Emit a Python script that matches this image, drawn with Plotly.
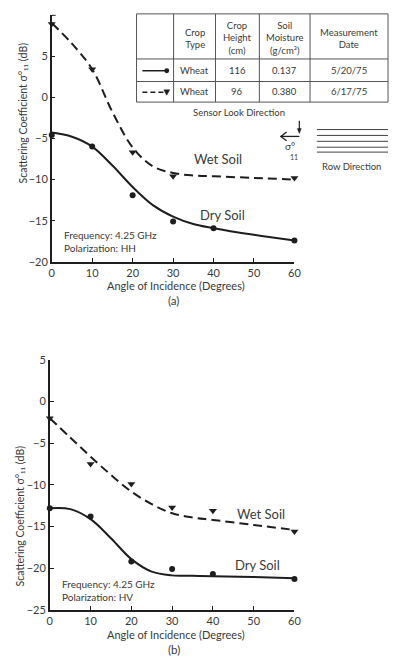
import plotly.graph_objects as go

W, H = 396, 664
FONT = "Lato"
TXT = "#3a3a3a"
INK = "#1e1e1e"

# ---------------- data ----------------
# Panel (a): polarization HH
angles_a_dry = [0, 10, 20, 30, 40, 60]
dry_a_pts = [-4.6, -6.0, -11.9, -15.1, -15.9, -17.4]
angles_a_wet = [0, 10, 20, 30, 60]
wet_a_pts = [8.9, 3.4, -6.7, -9.6, -9.8]

curve_angles = [0, 5, 10, 15, 20, 25, 30, 35, 40, 50, 60]
dry_a_curve = [-4.3, -4.8, -6.0, -8.3, -10.9, -13.1, -14.5, -15.4, -15.9, -16.7, -17.4]
wet_a_curve = [9.0, 6.5, 3.4, -1.8, -6.1, -8.4, -9.2, -9.5, -9.6, -9.8, -10.0]

# Panel (b): polarization HV
angles_b = [0, 10, 20, 30, 40, 60]
dry_b_pts = [-12.8, -13.8, -19.2, -20.1, -20.7, -21.3]
wet_b_pts = [-2.0, -7.5, -9.9, -12.7, -13.1, -15.6]
dry_b_curve = [-12.8, -12.9, -14.1, -16.4, -18.9, -20.4, -20.85, -20.9, -20.95, -21.05, -21.2]
wet_b_curve = [-2.0, -4.3, -6.6, -8.8, -10.8, -12.3, -13.4, -13.9, -14.2, -14.8, -15.4]

x_ticks = [0, 10, 20, 30, 40, 50, 60]
y_ticks_a = [-20, -15, -10, -5, 0, 5]
y_ticks_b = [-25, -20, -15, -10, -5, 0, 5]

table_header = ["", "Crop<br>Type", "Crop<br>Height<br>(cm)", "Soil<br>Moisture<br>(g/cm³)", "Measurement<br>Date"]
table_rows = [["", "Wheat", "116", "0.137", "5/20/75"],
              ["", "Wheat", "96", "0.380", "6/17/75"]]

# ---------------- helpers ----------------
def px(x):
    return x / W

def py(y):
    return 1 - y / H

def ann(text, x, y, size=9, xanchor="center", yanchor="middle", **kw):
    return dict(text=text, x=px(x), y=py(y), xref="paper", yref="paper",
                showarrow=False, xanchor=xanchor, yanchor=yanchor,
                font=dict(size=size, color=TXT, family=FONT), **kw)

def seg(x0, y0, x1, y1, color=INK, width=1.2, dash=None):
    ln = dict(color=color, width=width)
    if dash:
        ln["dash"] = dash
    return dict(type="line", xref="paper", yref="paper", x0=px(x0), x1=px(x1), y0=py(y0), y1=py(y1), line=ln)

def poly(points, fill=None, width=1.2):
    path = "M " + " L ".join(f"{px(a)} {py(b)}" for a, b in points)
    if fill:
        path += " Z"
    d = dict(type="path", xref="paper", yref="paper", path=path, line=dict(color=INK, width=width))
    if fill:
        d["fillcolor"] = fill
    return d

fig = go.Figure()

def add_panel(xa, ya, ax_c, dry_c, wet_c, ax_dry, dry_p, ax_wet, wet_p):
    fig.add_trace(go.Scatter(x=ax_c, y=wet_c, mode="lines",
                             line=dict(color=INK, width=2, dash="9px,5px", shape="spline", smoothing=1.0),
                             xaxis=xa, yaxis=ya, showlegend=False, hoverinfo="skip", cliponaxis=False))
    fig.add_trace(go.Scatter(x=ax_c, y=dry_c, mode="lines",
                             line=dict(color=INK, width=2, shape="spline", smoothing=1.0),
                             xaxis=xa, yaxis=ya, showlegend=False, hoverinfo="skip", cliponaxis=False))
    fig.add_trace(go.Scatter(x=ax_wet, y=wet_p, mode="markers", marker=dict(symbol="triangle-down", size=7, color=INK),
                             xaxis=xa, yaxis=ya, showlegend=False, cliponaxis=False))
    fig.add_trace(go.Scatter(x=ax_dry, y=dry_p, mode="markers", marker=dict(symbol="circle", size=6, color=INK),
                             xaxis=xa, yaxis=ya, showlegend=False, cliponaxis=False))

add_panel("x", "y", curve_angles, dry_a_curve, wet_a_curve, angles_a_dry, dry_a_pts, angles_a_wet, wet_a_pts)
add_panel("x2", "y2", curve_angles, dry_b_curve, wet_b_curve, angles_b, dry_b_pts, angles_b, wet_b_pts)

axis_common = dict(showline=True, linecolor=INK, linewidth=1.5, showgrid=False, zeroline=False,
                   ticks="inside", ticklen=4, tickwidth=1, tickcolor=INK,
                   tickfont=dict(size=11, color=TXT, family=FONT), fixedrange=True)

fig.update_layout(
    width=W, height=H, margin=dict(l=0, r=0, t=0, b=0),
    paper_bgcolor="white", plot_bgcolor="white", showlegend=False,
    xaxis=dict(domain=[px(50), px(299)], range=[0, 60], tickvals=x_ticks, anchor="y", **axis_common),
    yaxis=dict(domain=[py(260), py(8)], range=[-20, 10], tickvals=y_ticks_a, anchor="x", **axis_common),
    xaxis2=dict(domain=[px(48), px(299)], range=[0, 60], tickvals=x_ticks, anchor="y2", **axis_common),
    yaxis2=dict(domain=[py(615), py(360)], range=[-25, 5], tickvals=y_ticks_b, anchor="x2", **axis_common),
)

anns = []
shapes = []

# small unlabeled tick at the top of panel (a)'s y axis
shapes.append(seg(50, 8.5, 54, 8.5, width=1))

# axis titles and panel labels
ytitle = "Scattering Coefficient σ°₁₁ (dB)"
anns.append(ann(ytitle, 20, 108, size=10.5, textangle=-90))
anns.append(ann(ytitle, 17, 519, size=10.5, textangle=-90))
anns.append(ann("Angle of Incidence (Degrees)", 177, 284, size=11))
anns.append(ann("(a)", 175, 299, size=11.5))
anns.append(ann("Angle of Incidence (Degrees)", 177, 640, size=11))
anns.append(ann("(b)", 175, 655, size=11.5))

# curve labels
anns.append(ann("Wet Soil", 221, 155, size=13))
anns.append(ann("Dry Soil", 225, 212, size=13))
anns.append(ann("Wet Soil", 265, 517, size=13))
anns.append(ann("Dry Soil", 261, 569, size=13))

# frequency / polarization notes
anns.append(ann("Frequency: 4.25 GHz", 61, 233, size=10, xanchor="left"))
anns.append(ann("Polarization: HH", 61, 246, size=10, xanchor="left"))
anns.append(ann("Frequency: 4.25 GHz", 58, 589, size=10, xanchor="left"))
anns.append(ann("Polarization: HV", 58, 602, size=10, xanchor="left"))

# ---------------- table ----------------
col_x = [137, 175, 218, 263, 315, 395]
row_y = [7, 53, 76, 97]
for cx in col_x:
    shapes.append(seg(cx, row_y[0], cx, row_y[-1], color="#555", width=1))
for ry in row_y:
    shapes.append(seg(col_x[0], ry, col_x[-1], ry, color="#555", width=1))

for i, htxt in enumerate(table_header):
    if htxt:
        anns.append(ann(htxt, (col_x[i] + col_x[i + 1]) / 2, (row_y[0] + row_y[1]) / 2 + 2, size=9.5))
for r, row in enumerate(table_rows):
    cy = (row_y[r + 1] + row_y[r + 2]) / 2
    for i, cell in enumerate(row):
        if cell:
            anns.append(ann(cell, (col_x[i] + col_x[i + 1]) / 2, cy, size=9.5))

# legend samples inside table
shapes.append(seg(143, 65, 168, 65, width=1.5))
shapes.append(dict(type="circle", xref="paper", yref="paper", x0=px(165.5), x1=px(170.5), y0=py(67.5), y1=py(62.5),
                   fillcolor=INK, line=dict(color=INK, width=0)))
shapes.append(seg(143, 87, 167, 87, width=1.5, dash="5px,3px"))
shapes.append(poly([(165, 84.5), (171, 84.5), (168, 90)], fill=INK, width=0.5))

# ---------------- sensor / row direction diagram ----------------
anns.append(ann("Sensor Look Direction", 242, 108, size=9.5))
shapes.append(seg(285, 132, 304, 132, width=1.3))
shapes.append(poly([(291, 127.5), (285, 132), (291, 136.5)], width=1.3))
shapes.append(seg(304, 116, 304, 126, width=1.2))
shapes.append(poly([(302, 124), (306, 124), (304, 129)], fill=INK, width=0.5))
anns.append(ann("σ°", 294, 142, size=10))
anns.append(ann("11", 299, 153, size=7))
for ry in [125, 131, 137, 143, 148]:
    shapes.append(seg(322, ry, 395, ry, color="#444", width=1))
anns.append(ann("Row Direction", 358, 163, size=9.5))

fig.update_layout(annotations=anns, shapes=shapes)
fig.write_html("out.html")
